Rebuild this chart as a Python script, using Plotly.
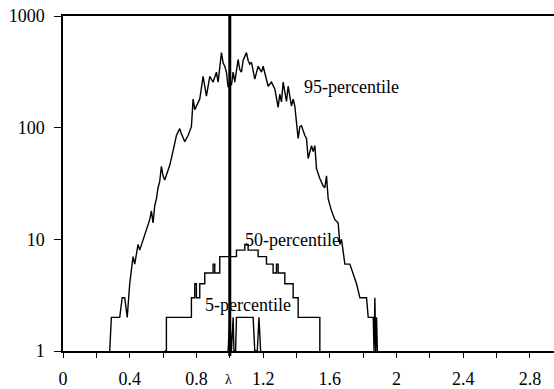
import plotly.graph_objects as go

# 95-percentile curve
p95_x = [0.28, 0.29, 0.34, 0.355, 0.37, 0.385, 0.40, 0.42, 0.43, 0.45, 0.46, 0.48, 0.50, 0.51, 0.52,
         0.53, 0.54, 0.55, 0.56, 0.57, 0.58, 0.59, 0.60, 0.61, 0.64, 0.66, 0.68, 0.70, 0.71, 0.73,
         0.75, 0.77, 0.78, 0.79, 0.80, 0.82, 0.84, 0.86, 0.88, 0.90, 0.92, 0.93, 0.95, 0.96, 0.97,
         0.98, 0.99, 1.00, 1.01, 1.02, 1.03, 1.05, 1.06, 1.07, 1.08, 1.10, 1.11, 1.12, 1.13, 1.15,
         1.17, 1.19, 1.20, 1.22, 1.23, 1.25, 1.27, 1.29, 1.30, 1.31, 1.32, 1.34, 1.35, 1.37, 1.38,
         1.39, 1.41, 1.42, 1.43, 1.45, 1.46, 1.47, 1.49, 1.50, 1.51, 1.52, 1.54, 1.56, 1.57, 1.58,
         1.59, 1.61, 1.63, 1.65, 1.66, 1.67, 1.68, 1.69, 1.72, 1.74, 1.76, 1.78, 1.82, 1.83, 1.86,
         1.865, 1.87, 1.875, 1.88, 1.885]
p95_y = [1, 2, 2, 3, 3, 2, 4, 7, 6, 9, 8, 10, 12, 14, 15,
         18, 14, 20, 23, 29, 33, 45, 37, 34, 46, 62, 85, 98, 88, 75,
         85, 102, 180, 145, 156, 180, 288, 192, 288, 256, 314, 256, 470, 380, 355,
         314, 230, 256, 240, 314, 256, 408, 330, 314, 400, 470, 400, 370, 385, 272,
         355, 314, 355, 260, 235, 256, 222, 152, 200, 170, 256, 172, 235, 156, 180,
         156, 80, 102, 104, 85, 80, 53, 69, 61, 69, 43, 35, 30, 29, 37,
         23, 18, 15, 14, 9, 10, 8, 6, 6, 5, 4, 3, 3, 2, 2,
         1, 3, 1, 2, 1]

# 50-percentile curve (stepwise)
p50_x = [0.61, 0.62, 0.77, 0.79, 0.80, 0.82, 0.85, 0.90, 0.91, 0.94, 1.04, 1.09, 1.11, 1.17, 1.22,
         1.26, 1.28, 1.29, 1.33, 1.38, 1.41, 1.54]
p50_y = [1, 2, 3, 4, 3, 4, 5, 6, 5, 7, 8, 9, 8, 7, 6,
         5, 6, 5, 4, 3, 2, 1]

# 5-percentile curve
p5_x = [0.99, 1.00, 1.01, 1.02, 1.025, 1.035, 1.04, 1.14, 1.15, 1.165, 1.175, 1.185]
p5_y = [1, 2, 1, 2, 1, 1, 2, 2, 1, 1, 2, 1]

x_tick_vals = [0, 0.2, 0.4, 0.6, 0.8, 1.0, 1.2, 1.4, 1.6, 1.8, 2.0, 2.2, 2.4, 2.6, 2.8]
x_tick_text = ["0", "", "0.4", "", "0.8", "", "1.2", "", "1.6", "", "2", "", "2.4", "", "2.8"]
y_tick_vals = [1, 10, 100, 1000]
y_tick_text = ["1", "10", "100", "1000"]

FONT = "Liberation Serif"
line = dict(color="black", width=1.4)

fig = go.Figure()
fig.add_trace(go.Scatter(x=p95_x, y=p95_y, mode="lines", line=line, showlegend=False))
fig.add_trace(go.Scatter(x=p50_x, y=p50_y, mode="lines", line=dict(color="black", width=1.4, shape="hv"),
                         showlegend=False))
fig.add_trace(go.Scatter(x=p5_x, y=p5_y, mode="lines", line=line, showlegend=False))

fig.add_shape(type="line", xref="x", yref="paper", x0=1.0, x1=1.0, y0=-0.015, y1=1,
              line=dict(color="black", width=3))

fig.add_annotation(x=1.432, y=2.363, xref="x", yref="y", text="95-percentile", showarrow=False,
                   xanchor="left", yanchor="middle", font=dict(family=FONT, size=18, color="black"))
fig.add_annotation(x=1.078, y=0.991, xref="x", yref="y", text="50-percentile", showarrow=False,
                   xanchor="left", yanchor="middle", font=dict(family=FONT, size=18, color="black"))
fig.add_annotation(x=0.838, y=0.416, xref="x", yref="y", text="5-percentile", showarrow=False,
                   xanchor="left", yanchor="middle", font=dict(family=FONT, size=18, color="black"))
fig.add_annotation(x=0.995, y=-0.058, xref="x", yref="paper", text="λ", showarrow=False,
                   xanchor="center", yanchor="top", font=dict(family=FONT, size=14, color="black"))

fig.update_layout(
    width=554, height=389,
    margin=dict(l=63, r=0, t=16, b=34),
    paper_bgcolor="white", plot_bgcolor="white",
    font=dict(family=FONT, size=18, color="black"),
    showlegend=False,
)
fig.update_xaxes(range=[0, 2.944], tickvals=x_tick_vals, ticktext=x_tick_text,
                 ticks="outside", ticklen=5, tickwidth=1.2, tickcolor="black",
                 showline=True, linecolor="black", linewidth=1.5, mirror=True,
                 showgrid=False, zeroline=False, ticklabelstandoff=6)
fig.update_yaxes(type="log", range=[0, 3], tickvals=y_tick_vals, ticktext=y_tick_text,
                 ticks="outside", ticklen=7, tickwidth=1.2, tickcolor="black",
                 showline=True, linecolor="black", linewidth=1.5, mirror=False,
                 showgrid=False, zeroline=False, ticklabelstandoff=6)

fig.write_html("out.html")
